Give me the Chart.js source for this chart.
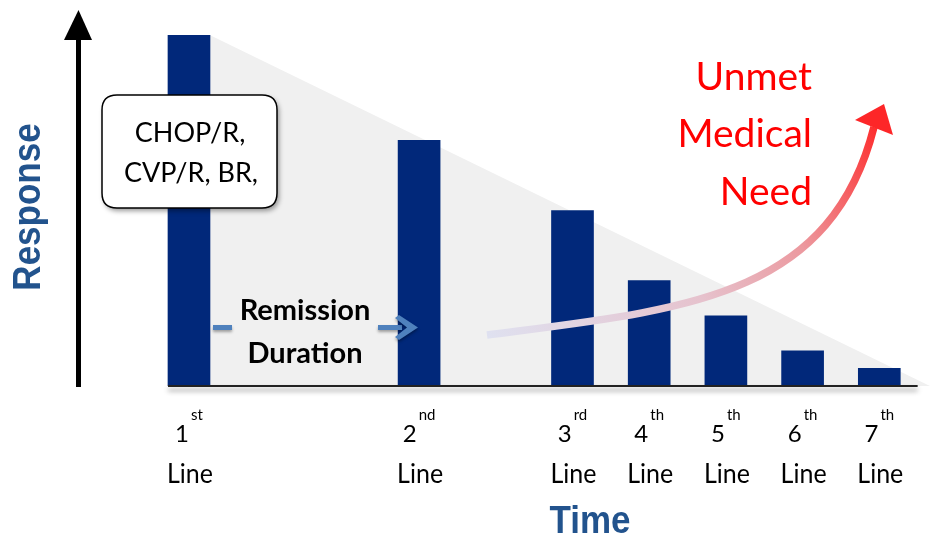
<!DOCTYPE html>
<html>
<head>
<meta charset="utf-8">
<script src="https://cdn.jsdelivr.net/npm/chart.js@4/dist/chart.umd.min.js"></script>
<style>
  html, body { margin: 0; padding: 0; background: #ffffff; }
  #wrap { width: 930px; height: 538px; }
</style>
</head>
<body>
<div id="wrap"><canvas id="chart" width="930" height="538"></canvas></div>
<script>
// Treatment lines, their position along the time axis, and the response for each
const lineNumbers   = ['1', '2', '3', '4', '5', '6', '7'];
const lineSuffixes  = ['st', 'nd', 'rd', 'th', 'th', 'th', 'th'];
const linePositions = [0, 3, 5, 6, 7, 8, 9];
const responses     = [100, 70, 50, 30, 20, 10, 5];

// Shaded envelope of declining response
const envelopeX = [0.27, 9.66];
const envelopeY = [100, 0];

const boxLines       = ['CHOP/R,', 'CVP/R, BR,'];
const remissionLines = ['Remission', 'Duration'];
const needLines      = ['Unmet', 'Medical', 'Need'];

const NAVY = '#01287a';
const AXIS_BLUE = '#22538d';
const BODY_FONT = 'Lato, "Open Sans", sans-serif';

function roundRect(ctx, x, y, w, h, r) {
  ctx.beginPath();
  ctx.moveTo(x + r, y);
  ctx.lineTo(x + w - r, y);
  ctx.quadraticCurveTo(x + w, y, x + w, y + r);
  ctx.lineTo(x + w, y + h - r);
  ctx.quadraticCurveTo(x + w, y + h, x + w - r, y + h);
  ctx.lineTo(x + r, y + h);
  ctx.quadraticCurveTo(x, y + h, x, y + h - r);
  ctx.lineTo(x, y + r);
  ctx.quadraticCurveTo(x, y, x + r, y);
  ctx.closePath();
}

const decorations = {
  id: 'decorations',
  afterDatasetsDraw(chart) {
    const ctx = chart.ctx;
    const xs = chart.scales.x;
    const ys = chart.scales.y;
    const base = ys.getPixelForValue(0);

    // baseline with soft shadow
    ctx.save();
    ctx.shadowColor = 'rgba(0,0,0,0.45)';
    ctx.shadowBlur = 5;
    ctx.shadowOffsetY = 4;
    ctx.strokeStyle = '#222';
    ctx.lineWidth = 2;
    ctx.beginPath();
    ctx.moveTo(xs.getPixelForValue(linePositions[0]) - 21, base);
    ctx.lineTo(xs.getPixelForValue(9.5), base);
    ctx.stroke();
    ctx.restore();

    // vertical response arrow
    ctx.save();
    ctx.fillStyle = '#000';
    ctx.fillRect(76, 36, 5, base + 1 - 36);
    ctx.beginPath();
    ctx.moveTo(78.5, 10);
    ctx.lineTo(92, 40);
    ctx.lineTo(64, 40);
    ctx.closePath();
    ctx.fill();
    ctx.restore();

    // axis titles
    ctx.save();
    ctx.fillStyle = AXIS_BLUE;
    ctx.font = 'bold 35px "Liberation Sans", Arial, sans-serif';
    ctx.textAlign = 'center';
    ctx.textBaseline = 'middle';
    ctx.translate(29, 207);
    ctx.rotate(-Math.PI / 2);
    ctx.scale(1, 1.1);
    ctx.fillText('Response', 0, 0);
    ctx.restore();

    ctx.save();
    ctx.fillStyle = AXIS_BLUE;
    ctx.font = 'bold 35px "Liberation Sans", Arial, sans-serif';
    ctx.textAlign = 'center';
    ctx.textBaseline = 'alphabetic';
    ctx.translate(590, 533);
    ctx.scale(1, 1.12);
    ctx.fillText('Time', 0, 0);
    ctx.restore();

    // category labels: ordinal number with superscript, then "Line"
    ctx.save();
    ctx.fillStyle = '#000';
    ctx.textBaseline = 'alphabetic';
    linePositions.forEach((p, i) => {
      const cx = xs.getPixelForValue(p);
      ctx.font = '24px ' + BODY_FONT;
      const wNum = ctx.measureText(lineNumbers[i]).width;
      ctx.font = '15px ' + BODY_FONT;
      const wSup = ctx.measureText(lineSuffixes[i]).width;
      const total = wNum + 2 + wSup;
      const left = cx - total / 2;
      ctx.textAlign = 'left';
      ctx.font = '24px ' + BODY_FONT;
      ctx.fillText(lineNumbers[i], left, 442);
      ctx.font = '15px ' + BODY_FONT;
      ctx.fillText(lineSuffixes[i], left + wNum + 2, 420);
      ctx.textAlign = 'center';
      ctx.font = '25px ' + BODY_FONT;
      ctx.save();
      ctx.translate(cx + 1, 483);
      ctx.scale(1, 1.08);
      ctx.fillText('Line', 0, 0);
      ctx.restore();
    });
    ctx.restore();

    // regimen call-out box
    ctx.save();
    ctx.shadowColor = 'rgba(0,0,0,0.4)';
    ctx.shadowBlur = 5;
    ctx.shadowOffsetX = 2;
    ctx.shadowOffsetY = 3;
    roundRect(ctx, 102, 95, 175, 113, 15);
    ctx.fillStyle = '#ffffff';
    ctx.fill();
    ctx.shadowColor = 'transparent';
    ctx.strokeStyle = '#000';
    ctx.lineWidth = 1.5;
    ctx.stroke();
    ctx.fillStyle = '#000';
    ctx.font = '27px ' + BODY_FONT;
    ctx.textAlign = 'center';
    ctx.textBaseline = 'alphabetic';
    ctx.fillText(boxLines[0], 190, 142);
    ctx.fillText(boxLines[1], 191, 182);
    ctx.restore();

    // remission duration label and its arrow
    ctx.save();
    ctx.fillStyle = '#000';
    ctx.font = 'bold 29px ' + BODY_FONT;
    ctx.textAlign = 'center';
    ctx.textBaseline = 'alphabetic';
    ctx.fillText(remissionLines[0], 305, 320);
    ctx.fillText(remissionLines[1], 305, 363);
    ctx.shadowColor = 'rgba(0,0,0,0.35)';
    ctx.shadowBlur = 3;
    ctx.shadowOffsetY = 2;
    ctx.fillStyle = '#4f81bd';
    ctx.fillRect(213, 325, 19, 5);
    ctx.fillRect(378, 325, 24, 5);
    ctx.beginPath();
    ctx.moveTo(418, 327.5);
    ctx.lineTo(399, 315);
    ctx.lineTo(395, 318);
    ctx.lineTo(407, 327.5);
    ctx.lineTo(395, 337);
    ctx.lineTo(399, 340);
    ctx.closePath();
    ctx.fill();
    ctx.restore();

    // rising unmet-need arrow
    ctx.save();
    const grad = ctx.createLinearGradient(487, 335, 880, 110);
    grad.addColorStop(0, '#dfe1f0');
    grad.addColorStop(0.45, '#e6c2cd');
    grad.addColorStop(0.7, '#ec999f');
    grad.addColorStop(1, '#ff2424');
    ctx.strokeStyle = grad;
    ctx.lineWidth = 7.5;
    ctx.beginPath();
    ctx.moveTo(487, 335);
    ctx.bezierCurveTo(680, 310, 830, 300, 874, 127);
    ctx.stroke();
    ctx.fillStyle = '#fd2628';
    ctx.beginPath();
    ctx.moveTo(884, 104);
    ctx.lineTo(893, 135);
    ctx.lineTo(855, 120);
    ctx.closePath();
    ctx.fill();
    ctx.restore();

    ctx.save();
    ctx.fillStyle = '#ff0000';
    ctx.font = '39px ' + BODY_FONT;
    ctx.textAlign = 'right';
    ctx.textBaseline = 'alphabetic';
    ctx.fillText(needLines[0], 812, 90);
    ctx.fillText(needLines[1], 812, 147);
    ctx.fillText(needLines[2], 812, 205);
    ctx.restore();
  }
};

new Chart(document.getElementById('chart'), {
  type: 'bar',
  data: {
    datasets: [
      {
        type: 'bar',
        label: 'Response',
        data: linePositions.map((p, i) => ({ x: p, y: responses[i] })),
        backgroundColor: NAVY,
        borderWidth: 0,
        barThickness: 42,
        order: 1
      },
      {
        type: 'line',
        label: 'Envelope',
        data: envelopeX.map((x, i) => ({ x: x, y: envelopeY[i] })),
        fill: 'origin',
        backgroundColor: '#f0f0f0',
        borderWidth: 0,
        pointRadius: 0,
        order: 2
      }
    ]
  },
  options: {
    responsive: false,
    animation: false,
    layout: { padding: { top: 35, bottom: 152, left: 0, right: 0 } },
    plugins: { legend: { display: false }, tooltip: { enabled: false } },
    scales: {
      x: { type: 'linear', offset: false, min: -2.464, max: 9.661, display: false },
      y: { min: 0, max: 100, display: false }
    }
  },
  plugins: [decorations]
});
</script>
</body>
</html>
